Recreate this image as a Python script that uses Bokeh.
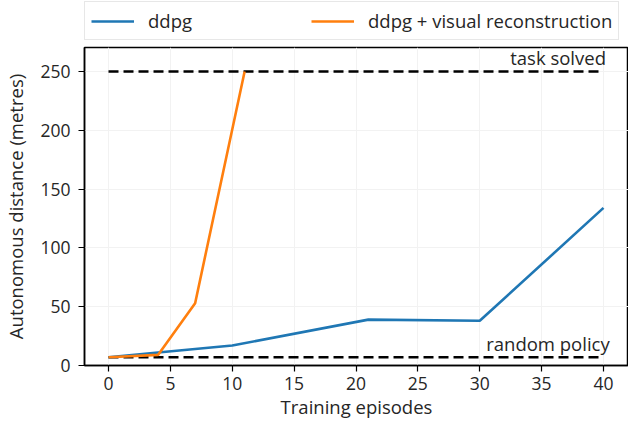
from bokeh.plotting import figure
from bokeh.layouts import column
from bokeh.models import Legend, LegendItem, Range1d, FixedTicker
from bokeh.core.properties import value
from bokeh.embed import file_html
from bokeh.resources import INLINE

# data
ddpg_x = [0, 4, 10, 21, 30, 40]
ddpg_y = [7, 11, 17, 39, 38, 134]
vis_x = [0, 4, 7, 11]
vis_y = [7, 9, 53, 250]
ref_x = [0, 40]
task_solved = [250, 250]
random_policy = [7, 7]
x_ticks = [0, 5, 10, 15, 20, 25, 30, 35, 40]
y_ticks = [0, 50, 100, 150, 200, 250]
series_names = ["ddpg", "ddpg + visual reconstruction"]

FONT = "Open Sans"
BLUE = "#1f77b4"
ORANGE = "#ff7f0e"
TXT = "#262626"

p = figure(width=628, height=378, output_backend="svg", toolbar_location=None,
           x_range=Range1d(-1.94, 42.02), y_range=Range1d(0, 270.4),
           min_border_left=83, min_border_right=0, min_border_top=1, min_border_bottom=59)

p.outline_line_color = "black"
p.outline_line_width = 1.5
p.xgrid.grid_line_color = "#f2f2f2"
p.ygrid.grid_line_color = "#f2f2f2"
p.xaxis.ticker = FixedTicker(ticks=x_ticks)
p.yaxis.ticker = FixedTicker(ticks=y_ticks)
p.xgrid.ticker = FixedTicker(ticks=x_ticks)
p.ygrid.ticker = FixedTicker(ticks=y_ticks)
for ax in (p.xaxis[0], p.yaxis[0]):
    ax.axis_line_color = "black"
    ax.axis_line_width = 1.5
    ax.major_tick_line_color = "black"
    ax.major_tick_line_width = 1.2
    ax.major_tick_out = 6
    ax.major_tick_in = 0
    ax.minor_tick_line_color = None
    ax.major_label_text_font = FONT
    ax.major_label_text_font_size = "17.5px"
    ax.major_label_text_color = TXT
    ax.axis_label_text_font = FONT
    ax.axis_label_text_font_size = "18.5px"
    ax.axis_label_text_font_style = "normal"
    ax.axis_label_text_color = TXT
p.xaxis.axis_label = "Training episodes"
p.yaxis.axis_label = "Autonomous distance (metres)"
p.xaxis.major_label_standoff = 5
p.yaxis.major_label_standoff = 8
p.xaxis.axis_label_standoff = 1
p.yaxis.axis_label_standoff = 9

p.line(ref_x, task_solved, line_color="black", line_width=2.6, line_dash="10 5")
p.line(ref_x, random_policy, line_color="black", line_width=2.6, line_dash="10 5")
p.line(ddpg_x, ddpg_y, line_color=BLUE, line_width=2.6)
p.line(vis_x, vis_y, line_color=ORANGE, line_width=2.6)

p.text(x=[40.2], y=[250], text=["task solved"], text_align="right", text_baseline="bottom",
       y_offset=-1, text_font=value(FONT), text_font_size="18.5px", text_color=TXT)
p.text(x=[40.5], y=[7], text=["random policy"], text_align="right", text_baseline="bottom",
       y_offset=-1, text_font=value(FONT), text_font_size="18.5px", text_color=TXT)

# legend strip above the axes (its series lie outside this strip's ranges, only the legend shows)
lg = figure(width=628, height=46, output_backend="svg", toolbar_location=None,
            x_range=Range1d(0, 1), y_range=Range1d(0, 1), x_axis_type=None, y_axis_type=None,
            min_border_left=0, min_border_right=0, min_border_top=0, min_border_bottom=0)
lg.outline_line_color = None
lg.grid.visible = False
k1 = lg.line(ddpg_x, ddpg_y, line_color=BLUE, line_width=2.6)
k2 = lg.line(vis_x, vis_y, line_color=ORANGE, line_width=2.6)
legend = Legend(items=[LegendItem(label=series_names[0], renderers=[k1]),
                       LegendItem(label=series_names[1], renderers=[k2])],
                orientation="horizontal", location=(0, 6),
                glyph_width=43, glyph_height=22, label_height=22, label_standoff=14,
                label_width=153, spacing=10, padding=6, margin=0,
                label_text_font=FONT, label_text_font_size="18.5px", label_text_color=TXT,
                border_line_color="#d0d0d0", border_line_width=1, background_fill_alpha=1)
lg.add_layout(legend, "center")

layout = column(lg, p, spacing=0)
open("out.html", "w").write(file_html(layout, INLINE))
